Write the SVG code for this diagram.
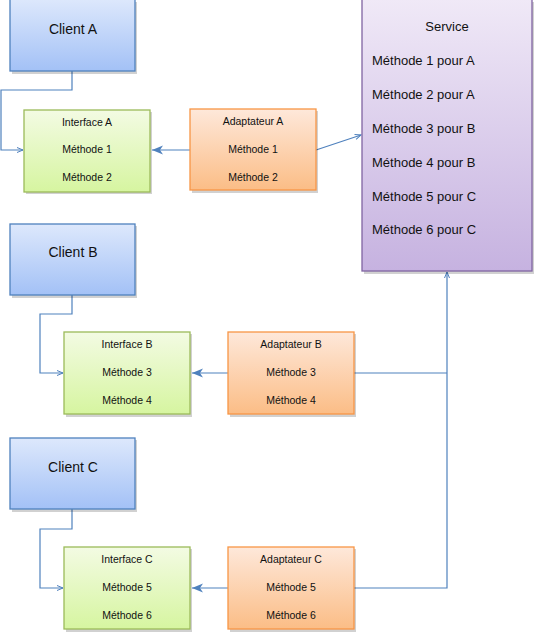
<svg xmlns="http://www.w3.org/2000/svg" width="535" height="632" viewBox="0 0 535 632">
<defs>
<linearGradient id="gBlue" x1="0" y1="0" x2="0" y2="1"><stop offset="0" stop-color="#dde8fc"/><stop offset="1" stop-color="#a3c1f6"/></linearGradient>
<linearGradient id="gGreen" x1="0" y1="0" x2="0" y2="1"><stop offset="0" stop-color="#f3fbe3"/><stop offset="1" stop-color="#d6f5a0"/></linearGradient>
<linearGradient id="gOrange" x1="0" y1="0" x2="0" y2="1"><stop offset="0" stop-color="#fee8da"/><stop offset="1" stop-color="#fbbd86"/></linearGradient>
<linearGradient id="gPurple" x1="0" y1="0" x2="0" y2="1"><stop offset="0" stop-color="#f0e9f7"/><stop offset="1" stop-color="#c6b2e0"/></linearGradient>
<marker id="open" markerWidth="8" markerHeight="8" refX="7" refY="4" orient="auto" markerUnits="userSpaceOnUse"><path d="M1,1.5 L7,4 L1,6.5" fill="none" stroke="#4f81bd" stroke-width="1"/></marker>
<marker id="block" markerWidth="12" markerHeight="10" refX="11" refY="5" orient="auto" markerUnits="userSpaceOnUse"><path d="M0,0.5 L11,5 L0,9.5 L3,5 Z" fill="#4f81bd"/></marker>
</defs>
<style>
.shadow{fill:#000;opacity:0.18}
.client rect.b{fill:url(#gBlue);stroke:#4f81bd;stroke-width:1.3}
.iface rect.b{fill:url(#gGreen);stroke:#9bbb59;stroke-width:1.3}
.adapt rect.b{fill:url(#gOrange);stroke:#f79646;stroke-width:1.3}
.svc rect.b{fill:url(#gPurple);stroke:#8064a2;stroke-width:1.3}
text{font-family:"Liberation Sans",Arial,sans-serif;fill:#111}
.big{font-size:14px;text-anchor:middle}
.sm{font-size:10.5px;text-anchor:middle}
.m{font-size:13px}
.conn path{fill:none;stroke:#4f81bd;stroke-width:1.2}
</style>
<g id="connectors" class="conn">
<path d="M72,71 V90 H1 V150 H23" marker-end="url(#open)"/>
<path d="M190,150 H152" marker-end="url(#block)"/>
<path d="M316,150 L361,135" marker-end="url(#open)"/>
<path d="M72,295 V314 H40 V373 H63" marker-end="url(#open)"/>
<path d="M228,373 H192" marker-end="url(#block)"/>
<path d="M354,373 H447"/>
<path d="M72,509 V529 H40 V588 H63" marker-end="url(#open)"/>
<path d="M228,588 H192" marker-end="url(#block)"/>
<path d="M354,588 H447 V272" marker-end="url(#open)"/>
</g>
<g id="clientA" class="client"><rect class="shadow" x="12" y="2" width="125" height="72"/><rect class="b" x="10" y="-1" width="125" height="72"/><text class="big" x="73" y="34">Client A</text></g>
<g id="interfaceA" class="iface"><rect class="shadow" x="26" y="112" width="126" height="82"/><rect class="b" x="24" y="110" width="126" height="82"/><text class="sm" x="87" y="126">Interface A</text><text class="sm" x="87" y="153">Méthode 1</text><text class="sm" x="87" y="181">Méthode 2</text></g>
<g id="adaptateurA" class="adapt"><rect class="shadow" x="192" y="111" width="126" height="82"/><rect class="b" x="190" y="109" width="126" height="81"/><text class="sm" x="253" y="125">Adaptateur A</text><text class="sm" x="253" y="153">Méthode 1</text><text class="sm" x="253" y="181">Méthode 2</text></g>
<g id="service" class="svc"><rect class="shadow" x="364" y="2" width="170" height="272"/><rect class="b" x="362" y="-1" width="170" height="272"/><text class="m" x="447" y="31" text-anchor="middle">Service</text><text class="m" x="372" y="65">Méthode 1 pour A</text><text class="m" x="372" y="99">Méthode 2 pour A</text><text class="m" x="372" y="133">Méthode 3 pour B</text><text class="m" x="372" y="167">Méthode 4 pour B</text><text class="m" x="372" y="201">Méthode 5 pour C</text><text class="m" x="372" y="234">Méthode 6 pour C</text></g>
<g id="clientB" class="client"><rect class="shadow" x="12" y="226" width="125" height="72"/><rect class="b" x="10" y="224" width="125" height="71"/><text class="big" x="73" y="257">Client B</text></g>
<g id="interfaceB" class="iface"><rect class="shadow" x="66" y="334" width="126" height="83"/><rect class="b" x="64" y="332" width="126" height="82"/><text class="sm" x="127" y="348">Interface B</text><text class="sm" x="127" y="376">Méthode 3</text><text class="sm" x="127" y="404">Méthode 4</text></g>
<g id="adaptateurB" class="adapt"><rect class="shadow" x="230" y="334" width="126" height="83"/><rect class="b" x="228" y="332" width="126" height="82"/><text class="sm" x="291" y="348">Adaptateur B</text><text class="sm" x="291" y="376">Méthode 3</text><text class="sm" x="291" y="404">Méthode 4</text></g>
<g id="clientC" class="client"><rect class="shadow" x="12" y="440" width="125" height="72"/><rect class="b" x="10" y="438" width="125" height="71"/><text class="big" x="73" y="472">Client C</text></g>
<g id="interfaceC" class="iface"><rect class="shadow" x="66" y="549" width="126" height="83"/><rect class="b" x="64" y="547" width="126" height="82"/><text class="sm" x="127" y="563">Interface C</text><text class="sm" x="127" y="591">Méthode 5</text><text class="sm" x="127" y="619">Méthode 6</text></g>
<g id="adaptateurC" class="adapt"><rect class="shadow" x="230" y="549" width="126" height="83"/><rect class="b" x="228" y="547" width="126" height="82"/><text class="sm" x="291" y="563">Adaptateur C</text><text class="sm" x="291" y="591">Méthode 5</text><text class="sm" x="291" y="619">Méthode 6</text></g>
</svg>
